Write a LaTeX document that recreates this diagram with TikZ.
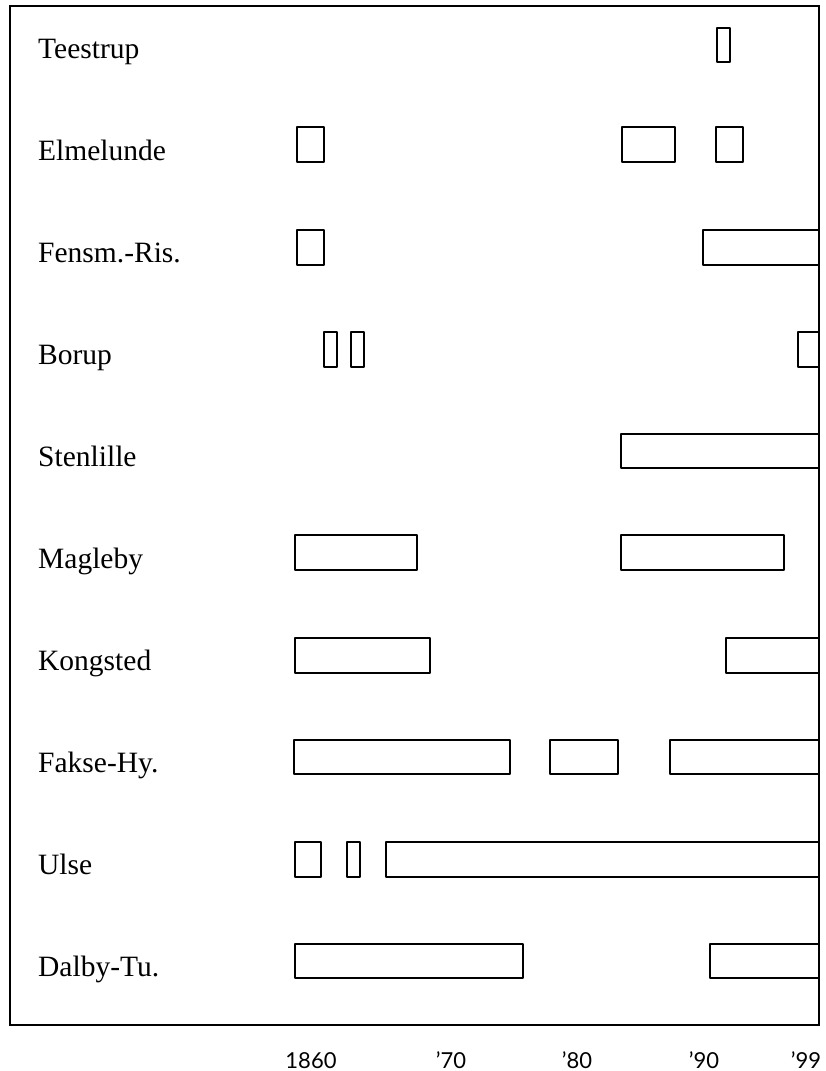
\documentclass[tikz,border=0pt]{standalone}
\usepackage{fontspec}
\setmainfont{Liberation Serif}
\newfontfamily\yearfont{Lato}
\begin{document}
\begin{tikzpicture}[x=1pt,y=-1pt,
  bar/.style={draw=black,line width=1.7pt,line join=round},
  frame/.style={draw=black,line width=2.6pt},
  lab/.style={anchor=base west,inner sep=0pt,font=\fontsize{29.5}{33}\selectfont},
  yr/.style={anchor=base,inner sep=0pt,font=\yearfont\fontsize{22}{26}\selectfont}]
\useasboundingbox (0,0) rectangle (825,1071);
% frame
\draw[frame] (10,6) rectangle (819,1025);
% labels
\foreach \t [count=\i from 0] in {Teestrup,Elmelunde,Fensm.-Ris.,Borup,Stenlille,Magleby,Kongsted,Fakse-Hy.,Ulse,Dalby-Tu.}
  \node[lab] (l\i) at (38,{58+102.1*\i}) {\t};
% bars
\draw[bar] (717,28) rectangle (730,62);
\foreach \a/\b in {297/324,622/675,716/743} \draw[bar] (\a,127) rectangle (\b,162);
\foreach \a/\b in {297/324,703/819} \draw[bar] (\a,230) rectangle (\b,265);
\foreach \a/\b in {324/337,351/364,798/819} \draw[bar] (\a,332) rectangle (\b,367);
\draw[bar] (621,434) rectangle (819,468);
\foreach \a/\b in {295/417,621/784} \draw[bar] (\a,535) rectangle (\b,570);
\foreach \a/\b in {295/430,726/819} \draw[bar] (\a,638) rectangle (\b,673);
\foreach \a/\b in {294/510,550/618,670/819} \draw[bar] (\a,740) rectangle (\b,774);
\foreach \a/\b in {295/321,347/360,386/819} \draw[bar] (\a,842) rectangle (\b,877);
\foreach \a/\b in {295/523,710/819} \draw[bar] (\a,944) rectangle (\b,978);
% redraw right frame edge on top
\draw[frame] (819,6) -- (819,1025);
% year labels
\node[yr] (y60) at (311,1068) {1860};
\node[yr] (y70) at (451,1068) {’70};
\node[yr] (y80) at (577,1068) {’80};
\node[yr] (y90) at (704,1068) {’90};
\node[yr] (y99) at (806,1068) {’99};
\end{tikzpicture}
\end{document}
